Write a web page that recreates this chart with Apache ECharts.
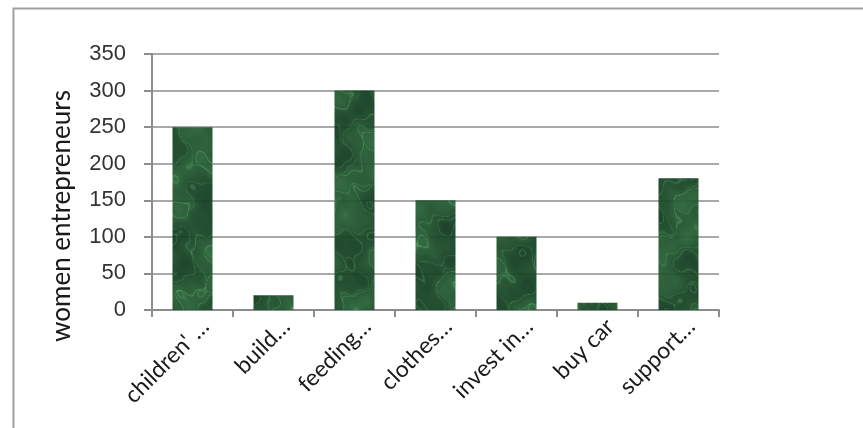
<!DOCTYPE html>
<html><head><meta charset="utf-8">
<script src="https://cdn.jsdelivr.net/npm/echarts@6/dist/echarts.min.js"></script>
<style>html,body{margin:0;padding:0;background:#fff}#c{width:863px;height:428px}</style>
</head><body><div id="c"></div>
<script>
const categories = ["children' …", "build…", "feeding…", "clothes…", "invest in…", "buy car", "support…"];
const values = [250, 20, 300, 150, 100, 10, 180];
const yTicks = [0, 50, 100, 150, 200, 250, 300, 350];
const axisTitle = "women entrepreneurs";

// deterministic marble-like texture (large enough to avoid visible tiling)
function makeTexture() {
  const w = 880, h = 440, cv = document.createElement('canvas');
  cv.width = w; cv.height = h;
  const ctx = cv.getContext('2d');
  const img = ctx.createImageData(w, h);
  for (let y = 0; y < h; y++) for (let x = 0; x < w; x++) {
    const n = Math.sin(0.071 * x + 0.043 * y) + 0.7 * Math.sin(0.113 * x - 0.067 * y + 1.3) +
              0.6 * Math.sin(0.029 * x + 0.151 * y + 2.1) + 0.3 * Math.sin(0.19 * x + 0.17 * y + 0.5) +
              0.25 * Math.sin(0.31 * x - 0.23 * y + 0.9);
    let vein = 1 - Math.abs(Math.sin(0.045 * x + 0.03 * y + 1.4 * n));
    vein = Math.pow(vein, 12) * 0.7;
    let vein2 = 1 - Math.abs(Math.sin(0.03 * x - 0.05 * y + 1.2 * n + 1.0));
    vein2 = Math.pow(vein2, 14) * 0.5;
    const cloud = (n + 2.85) / 5.7;
    const v = Math.min(1, vein + vein2);
    const i = (y * w + x) * 4;
    img.data[i] = 12 + 32 * cloud + 40 * v;
    img.data[i + 1] = 50 + 55 * cloud + 60 * v;
    img.data[i + 2] = 26 + 32 * cloud + 40 * v;
    img.data[i + 3] = 255;
  }
  ctx.putImageData(img, 0, 0);
  return cv;
}

const chart = echarts.init(document.getElementById('c'));
chart.setOption({
  animation: false,
  grid: { left: 152, right: 144, top: 54, bottom: 118, containLabel: false },
  xAxis: {
    type: 'category', data: categories,
    axisLine: { lineStyle: { color: '#8c8c8c', width: 2 } },
    axisTick: { show: true, length: 7, alignWithLabel: false, lineStyle: { color: '#8c8c8c', width: 2 } },
    axisLabel: { rotate: 45, interval: 0, margin: 0, align: 'right', verticalAlign: 'top', lineHeight: 36,
      fontFamily: 'Lato', fontSize: 23, color: '#1a1a1a' }
  },
  yAxis: {
    type: 'value', min: 0, max: 350, interval: 50,
    axisLine: { show: true, lineStyle: { color: '#8c8c8c', width: 2 } },
    axisTick: { show: true, length: 8, inside: false, lineStyle: { color: '#8c8c8c', width: 2 } },
    splitLine: { lineStyle: { color: '#8c8c8c', width: 1.5 } },
    axisLabel: { margin: 26, fontFamily: 'Liberation Sans', fontSize: 22, color: '#333',
      formatter: v => yTicks.includes(v) ? String(v) : '' }
  },
  series: [{
    type: 'bar', data: values, barWidth: 40,
    itemStyle: { color: { image: makeTexture(), repeat: 'repeat' }, opacity: 0.94 }
  }],
  graphic: [
    { type: 'rect', left: 11, top: 6, shape: { width: 1000, height: 600 },
      style: { fill: 'none', stroke: '#a0a0a0', lineWidth: 2 }, silent: true },
    { type: 'text', x: 62, y: 216, rotation: Math.PI / 2,
      style: { text: axisTitle, font: '26px Lato', fill: '#1a1a1a', align: 'center', verticalAlign: 'middle' } }
  ]
});
</script></body></html>
